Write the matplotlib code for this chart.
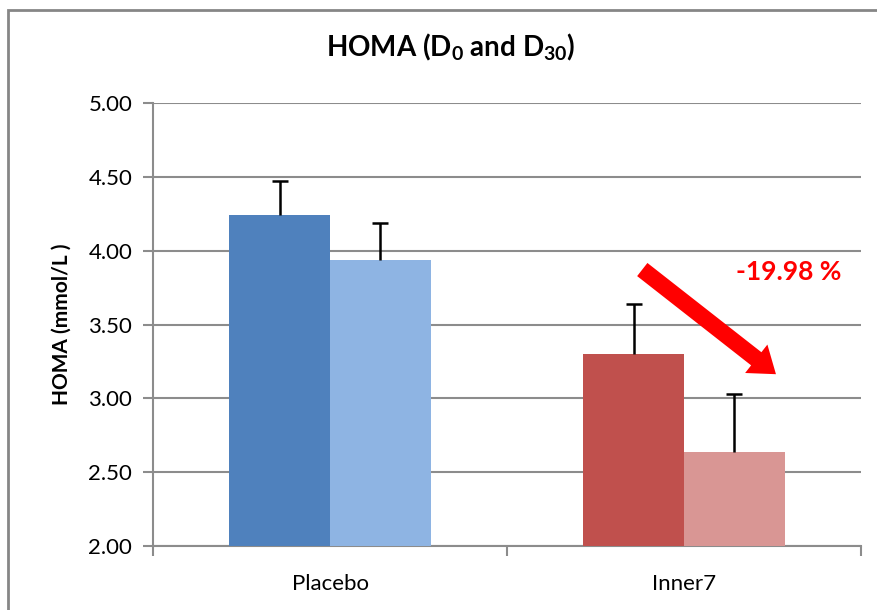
import matplotlib
matplotlib.use('Agg')
import matplotlib.pyplot as plt
from matplotlib.patches import Rectangle, FancyArrowPatch
import numpy as np

plt.rcParams.update({
    "font.family": ["Lato", "DejaVu Sans"],
    "mathtext.fontset": "custom",
    "mathtext.rm": "Lato:bold",
    "mathtext.default": "rm",
})

GRID = "#8C8C8C"

groups = ['Placebo', 'Inner7']
d0_vals = [4.24, 3.30]
d30_vals = [3.94, 2.64]
d0_err = [0.235, 0.34]
d30_err = [0.245, 0.39]
d0_colors = ['#4F81BD', '#C0504D']
d30_colors = ['#8EB4E3', '#D99694']
yticks = [2.0, 2.5, 3.0, 3.5, 4.0, 4.5, 5.0]

fig = plt.figure(figsize=(8.78, 6.10), dpi=100)
ax = fig.add_axes([0.1743, 0.1049, 0.8063, 0.7262])

x = np.arange(len(groups))
w = 0.284
ax.bar(x - w/2, d0_vals, w, color=d0_colors, zorder=3)
ax.bar(x + w/2, d30_vals, w, color=d30_colors, zorder=3)
for xs, vals, errs in [(x - w/2, d0_vals, d0_err), (x + w/2, d30_vals, d30_err)]:
    eb = ax.errorbar(xs, vals, yerr=[[0] * len(vals), errs], fmt='none', ecolor='black',
                     elinewidth=1.8, capsize=6, capthick=1.8, zorder=4)
    eb[1][0].set_visible(False)   # only the upper cap

ax.set_xlim(-0.5, 1.5)
ax.set_ylim(2.0, 5.0)
ax.set_yticks(yticks)
ax.set_yticklabels([f'{v:.2f}' for v in yticks])
ax.set_xticks([-0.5, 0.5, 1.5], minor=False)
ax.set_xticklabels(['', '', ''])
ax.set_xticks(x, minor=True)
ax.set_xticklabels(groups, minor=True)
ax.tick_params(axis='x', which='minor', length=0, labelsize=16, pad=20)
ax.tick_params(axis='x', which='major', length=7, color=GRID, width=1.5)
ax.tick_params(axis='y', length=7, color=GRID, width=1.5, labelsize=16, pad=8)

for s in ['top', 'right']:
    ax.spines[s].set_visible(False)
ax.spines['left'].set_color(GRID)
ax.spines['bottom'].set_color(GRID)
ax.spines['left'].set_linewidth(1.5)
ax.spines['bottom'].set_linewidth(1.5)
ax.yaxis.grid(True, color=GRID, linewidth=1.5)
ax.set_axisbelow(True)

ax.set_ylabel('HOMA (mmol/L )', fontsize=15, fontweight='bold', labelpad=12)
fig.text(0.513, 0.922, r'HOMA (D$_0$ and D$_{30}$)', fontsize=20, fontweight='bold',
         ha='center', va='center')

arrow = FancyArrowPatch((0.688, 0.628), (0.883, 0.384), transform=ax.transAxes,
                        arrowstyle='simple,head_width=26,head_length=18,tail_width=12',
                        mutation_scale=1, color='#FF0000', lw=0, zorder=5)
ax.add_patch(arrow)
ax.text(0.898, 0.618, '-19.98 %', transform=ax.transAxes, color='#FF0000',
        fontsize=19, fontweight='bold', ha='center', va='center', zorder=5)

# chart frame (left and top edges visible in the crop)
fig.patches.append(Rectangle((8/878, -0.1), 1.2, 1 - 10/610 + 0.1,
                             transform=fig.transFigure, fill=False,
                             edgecolor='#868686', linewidth=2))

fig.savefig('out.png', dpi=100)
